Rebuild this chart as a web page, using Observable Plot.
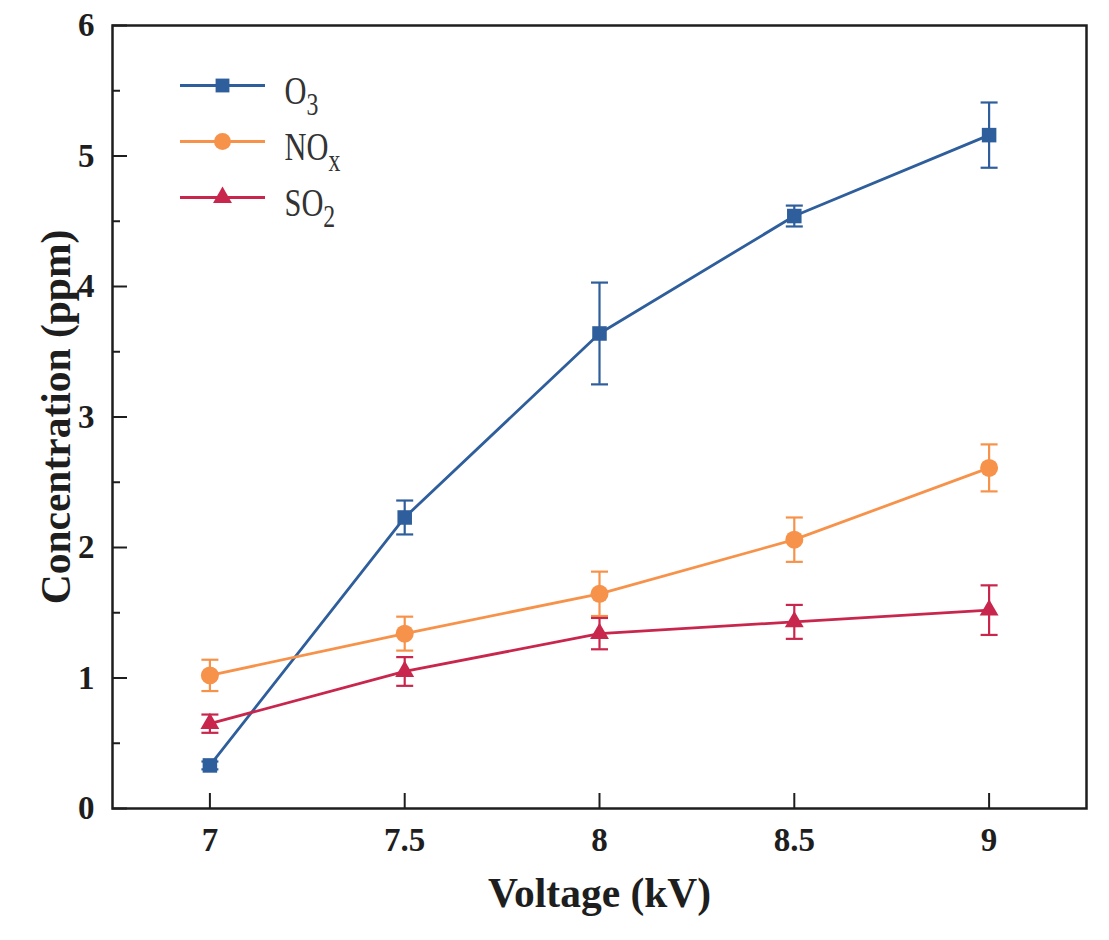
<!DOCTYPE html>
<html><head><meta charset="utf-8">
<script src="https://cdn.jsdelivr.net/npm/d3@7"></script>
<script src="https://cdn.jsdelivr.net/npm/@observablehq/plot@0.6"></script>
<style>body{margin:0;background:#fff;} svg{display:block}</style>
</head><body><div id="chart"></div>
<script>
// ---- data ----
const voltage = [7, 7.5, 8, 8.5, 9];
const seriesNames = ["O3", "NOx", "SO2"];
const o3 = [0.33, 2.23, 3.64, 4.54, 5.16];
const o3Err = [0.03, 0.13, 0.39, 0.08, 0.25];
const nox = [1.02, 1.34, 1.645, 2.06, 2.61];
const noxErr = [0.12, 0.13, 0.17, 0.17, 0.18];
const so2 = [0.65, 1.05, 1.34, 1.43, 1.52];
const so2Err = [0.07, 0.11, 0.12, 0.13, 0.19];
const xTicks = [7, 7.5, 8, 8.5, 9];
const yTicks = [0, 1, 2, 3, 4, 5, 6];
const yMinorTicks = [0.5, 1.5, 2.5, 3.5, 4.5, 5.5];
const legendMain = ["O", "NO", "SO"];
const legendSub = ["3", "x", "2"];

// ---- styles ----
const colors = ["#2e5e9b", "#f7924a", "#c8264c"];
const symbols = ["square", "circle", "triangle"];
const symbolR = [8.2, 9, 7];
const legendR = [7.8, 8.5, 7];
const values = [o3, nox, so2];
const errs = [o3Err, noxErr, so2Err];
const serif = "'Liberation Serif', 'Times New Roman', serif";
const axisColor = "#1e1e1e";

const capSymbol = { draw(ctx, size) { const w = Math.sqrt(size / Math.PI); ctx.moveTo(-w, 0); ctx.lineTo(w, 0); } };

const marks = [];
seriesNames.forEach((name, i) => {
  const rows = voltage.map((v, j) => ({x: v, y: values[i][j], lo: values[i][j] - errs[i][j], hi: values[i][j] + errs[i][j]}));
  marks.push(Plot.line(rows, {x: "x", y: "y", stroke: colors[i], strokeWidth: 2.8}));
  marks.push(Plot.ruleX(rows, {x: "x", y1: "lo", y2: "hi", stroke: colors[i], strokeWidth: 2.2}));
  marks.push(Plot.dot(rows, {x: "x", y: "lo", symbol: capSymbol, r: 8.5, stroke: colors[i], fill: "none", strokeWidth: 2.2}));
  marks.push(Plot.dot(rows, {x: "x", y: "hi", symbol: capSymbol, r: 8.5, stroke: colors[i], fill: "none", strokeWidth: 2.2}));
  marks.push(Plot.dot(rows, {x: "x", y: "y", symbol: symbols[i], r: symbolR[i], fill: colors[i], stroke: "none"}));
  // legend
  const ly = 60 + 56 * i;
  marks.push(Plot.dot([name], {frameAnchor: "top-left", dx: 110, dy: ly, symbol: capSymbol, r: 42.5, stroke: colors[i], fill: "none", strokeWidth: 2.8}));
  marks.push(Plot.dot([name], {frameAnchor: "top-left", dx: 110, dy: ly, symbol: symbols[i], r: legendR[i], fill: colors[i], stroke: "none"}));
  marks.push(Plot.text([name], {frameAnchor: "top-left", dx: 172, dy: ly - 9, text: d => d, textAnchor: "start", fontSize: 32, fontFamily: serif, fill: "#333"}));
});

const chart = Plot.plot({
  width: 1109,
  height: 940,
  marginLeft: 112,
  marginRight: 23,
  marginTop: 25,
  marginBottom: 132,
  style: {fontFamily: serif, background: "white", color: axisColor},
  x: {domain: [6.75, 9.25]},
  y: {domain: [0, 6]},
  marks: [
    Plot.axisX(xTicks, {tickSize: -15, strokeWidth: 2, fill: "none", label: null}),
    Plot.axisX(xTicks, {tickSize: 0, tickPadding: 19, fontSize: 33, fontWeight: "bold", tickFormat: d => String(d), label: null, fill: axisColor}),
    Plot.axisY(yTicks, {tickSize: -15, strokeWidth: 2, fill: "none", label: null}),
    Plot.axisY(yMinorTicks, {tickSize: -8, strokeWidth: 2, fill: "none", label: null}),
    Plot.axisY(yTicks, {tickSize: 0, tickPadding: 18, fontSize: 33, fontWeight: "bold", tickFormat: d => String(d), label: null, fill: axisColor}),
    Plot.text(["Voltage (kV)"], {frameAnchor: "bottom", dy: 85, lineAnchor: "middle", textAnchor: "middle", text: d => d, fontSize: 41.5, fontWeight: "bold", fill: axisColor}),
    Plot.text(["Concentration (ppm)"], {frameAnchor: "left", dx: -56, rotate: -90, lineAnchor: "middle", textAnchor: "middle", text: d => d, fontSize: 41.5, fontWeight: "bold", fill: axisColor}),
    ...marks,
    Plot.frame({stroke: axisColor, strokeWidth: 2.5})
  ]
});
document.getElementById("chart").appendChild(chart);

// subscripts in legend labels (slightly tall, condensed look as in the source)
chart.querySelectorAll("text").forEach(t => {
  const k = seriesNames.indexOf(t.textContent);
  if (k >= 0 && t.children.length === 0) {
    t.textContent = "";
    const a = document.createElementNS("http://www.w3.org/2000/svg", "tspan");
    a.textContent = legendMain[k];
    const b = document.createElementNS("http://www.w3.org/2000/svg", "tspan");
    b.textContent = legendSub[k];
    b.setAttribute("font-size", "25");
    b.setAttribute("dy", "9");
    t.appendChild(a); t.appendChild(b);
    const tr = t.getAttribute("transform") || "";
    t.setAttribute("transform", tr + " scale(0.95,1.22)");
  }
});
</script>
</body></html>
